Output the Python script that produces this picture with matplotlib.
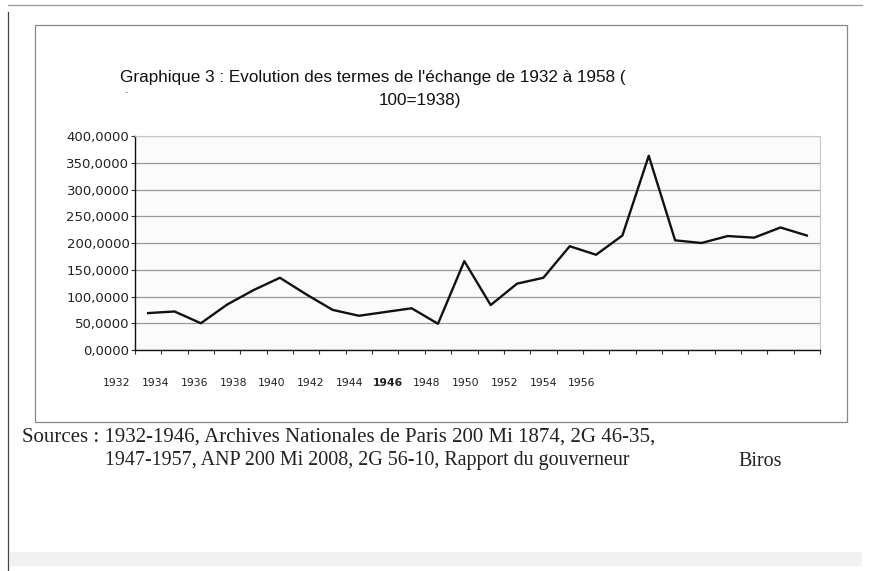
import matplotlib.pyplot as plt
from matplotlib.patches import Rectangle
from matplotlib.lines import Line2D

# terms of trade index, 100 = 1938 (one value per year)
years = list(range(1932, 1958))
values = [69, 72, 50, 85, 112, 135, 104, 75, 64, 71, 78, 49,
          166, 84, 124, 135, 194, 178, 214, 363, 205, 200, 213, 210, 229, 214]
year_labels = ["1932", "1934", "1936", "1938", "1940", "1942", "1944",
               "1946", "1948", "1950", "1952", "1954", "1956"]
yticks = [0, 50, 100, 150, 200, 250, 300, 350, 400]

W, H = 870, 571


def fx(px):
    return px / W


def fy(py):
    return 1 - py / H


fig = plt.figure(figsize=(W / 100, H / 100), dpi=100)
fig.patch.set_facecolor("white")

# page border lines and the chart frame
fig.add_artist(Line2D([fx(8), fx(8)], [fy(12), fy(571)], color="#444444", lw=0.9))
fig.add_artist(Line2D([fx(8), fx(862)], [fy(5), fy(5)], color="#999999", lw=0.9))
fig.add_artist(Rectangle((fx(35), fy(422)), fx(847) - fx(35), fy(25) - fy(422),
                         fill=False, edgecolor="#888888", lw=0.9))
fig.add_artist(Rectangle((fx(10), fy(566)), fx(862) - fx(10), fy(552) - fy(566),
                         facecolor="#f1f1f1", edgecolor="none"))

ax = fig.add_axes([fx(135), fy(350), fx(820) - fx(135), fy(136) - fy(350)])
ax.set_facecolor("#fbfbfb")

x = list(range(len(years)))
ax.plot(x, values, color="#111111", lw=1.7, zorder=3)

ax.set_xlim(-0.5, len(years) - 0.5)
ax.set_ylim(0, 400)
ax.set_yticks(yticks)
ax.set_yticklabels([f"{v},0000" for v in yticks], fontsize=9.5, family="DejaVu Sans",
                   color="#222222")
ax.yaxis.grid(True, color="#9a9a9a", lw=0.9)
ax.set_axisbelow(True)

# tick marks on category boundaries, labels drawn separately (shifted as in the scan)
ax.set_xticks([i - 0.5 for i in range(len(years) + 1)])
ax.set_xticklabels([])
ax.tick_params(axis="x", length=3, width=0.8, color="#333333")
ax.tick_params(axis="y", length=3, width=0.8, color="#333333", pad=1)

for s in ["left", "bottom"]:
    ax.spines[s].set_color("#111111")
    ax.spines[s].set_linewidth(1.0)
for s in ["top", "right"]:
    ax.spines[s].set_color("#c8c8c8")
    ax.spines[s].set_linewidth(0.8)

lab_start = (117 - 135) / 685
lab_step = (582 - 117) / 685 / (len(year_labels) - 1)
for i, lab in enumerate(year_labels):
    ax.text(lab_start + i * lab_step, -0.155, lab, transform=ax.transAxes,
            ha="center", va="center", fontsize=7.8, family="DejaVu Sans",
            color="#222222", fontweight="bold" if lab == "1946" else "normal")

# title
fig.text(fx(120), fy(78), "Graphique 3 : Evolution des termes de l'échange de 1932 à 1958 (",
         ha="left", va="center", fontsize=12.3, family="Liberation Sans", color="#111111")
fig.text(fx(420), fy(101), "100=1938)", ha="center", va="center", fontsize=12.3,
         family="Liberation Sans", color="#111111")
fig.text(fx(127), fy(90), ".", ha="center", va="center", fontsize=8, color="#222222")

# sources
fig.text(fx(22), fy(437), "Sources : 1932-1946, Archives Nationales de Paris 200 Mi 1874, 2G 46-35,",
         ha="left", va="center", fontsize=15, family="Liberation Serif", color="#222222")
fig.text(fx(105), fy(461), "1947-1957, ANP 200 Mi 2008, 2G 56-10, Rapport du gouverneur",
         ha="left", va="center", fontsize=14.4, family="Liberation Serif", color="#222222")
fig.text(fx(738), fy(461), "Biros", ha="left", va="center", fontsize=14.4,
         family="Liberation Serif", color="#222222")

fig.savefig("out.png", dpi=100)
